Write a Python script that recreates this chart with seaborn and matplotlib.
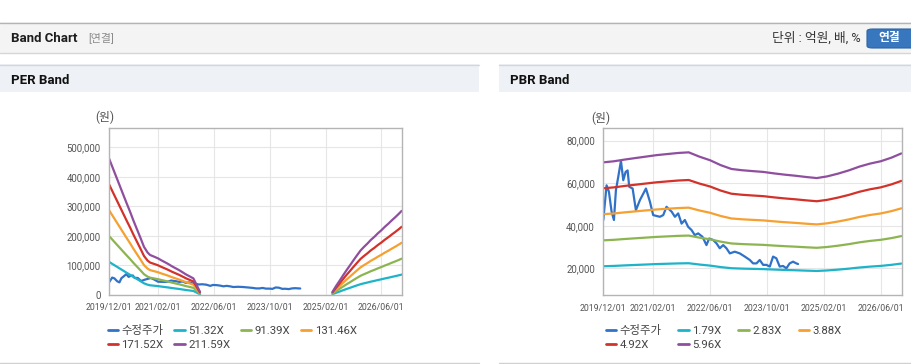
import matplotlib
matplotlib.use("Agg")
import matplotlib.pyplot as plt
import matplotlib.dates as mdates
from matplotlib.patches import Rectangle, FancyBboxPatch
from matplotlib.lines import Line2D
from matplotlib.ticker import FuncFormatter
import pandas as pd
import seaborn as sns

W, H = 912, 364

# Adjusted share price (won), shared by both charts
price_dates = ['2019-12-01', '2019-12-29', '2020-01-18', '2020-02-10', '2020-03-01', '2020-03-18',
               '2020-04-07', '2020-04-30', '2020-05-20', '2020-06-09', '2020-06-26', '2020-07-10',
               '2020-08-08', '2020-09-05', '2020-10-09', '2020-11-30', '2021-01-03', '2021-01-31',
               '2021-03-29', '2021-04-27', '2021-05-25', '2021-07-08', '2021-08-05', '2021-09-02',
               '2021-10-01', '2021-10-29', '2021-11-26', '2021-12-25', '2022-01-22', '2022-02-20',
               '2022-03-29', '2022-05-02', '2022-05-25', '2022-06-28', '2022-07-27', '2022-08-24',
               '2022-09-22', '2022-10-20', '2022-11-18', '2022-12-30', '2023-02-11', '2023-03-26',
               '2023-05-08', '2023-06-05', '2023-07-04', '2023-08-01', '2023-08-30', '2023-09-27',
               '2023-10-26', '2023-11-23', '2023-12-21', '2024-01-19', '2024-02-16', '2024-03-16',
               '2024-04-13', '2024-05-12', '2024-06-09', '2024-06-24']
price = [42700, 59000, 56000, 46600, 42700, 56700, 63000, 70500, 61400, 65300,
         66000, 58300, 57500, 47300, 52000, 57500, 51300, 45000, 44200, 45000,
         48900, 46600, 44200, 45800, 41000, 42700, 39500, 38000, 35600, 36400,
         34800, 30900, 34000, 33300, 31700, 29400, 30900, 29400, 27000, 27800,
         27000, 25500, 23900, 22300, 22300, 23900, 21600, 21600, 20800, 25500,
         24700, 20800, 21100, 20000, 22300, 23100, 22300, 22000]

# EPS (won) behind the PER band, two separate stretches
eps_dates_a = ['2019-12-01', '2020-01-01', '2020-02-01', '2020-03-01', '2020-04-01', '2020-05-01',
               '2020-06-01', '2020-07-01', '2020-08-01', '2020-09-01', '2020-10-01', '2020-11-01',
               '2020-11-23', '2021-01-01', '2021-02-01', '2021-03-01', '2021-04-01', '2021-05-01',
               '2021-06-01', '2021-07-01', '2021-08-01', '2021-09-01', '2021-10-01', '2021-11-01',
               '2021-12-06', '2022-02-01']
eps_a = [2185, 2040, 1895, 1760, 1615, 1475, 1335, 1190, 1050, 910, 770, 680,
         640, 610, 585, 555, 525, 495, 460, 430, 400, 365, 330, 300,
         265, 50]
eps_dates_b = ['2025-04-01', '2025-05-01', '2025-06-01', '2025-07-01', '2025-08-01', '2025-09-01',
               '2025-10-01', '2025-11-01', '2025-12-01', '2026-01-01', '2026-02-01', '2026-03-01',
               '2026-04-01', '2026-05-01', '2026-06-01', '2026-07-01', '2026-08-01', '2026-09-01',
               '2026-10-01', '2026-11-01', '2026-11-25']
eps_b = [50, 140, 225, 310, 395, 475, 555, 635, 710, 770, 825, 880,
         930, 985, 1035, 1090, 1140, 1195, 1245, 1300, 1345]
per_multiples = [51.32, 91.39, 131.46, 171.52, 211.59]

# BPS (won) behind the PBR band
bps_dates = ['2019-12-01', '2020-03-01', '2020-06-01', '2020-09-01', '2020-12-01', '2021-03-01',
             '2021-06-01', '2021-09-01', '2021-12-01', '2022-03-01', '2022-06-01', '2022-09-01',
             '2022-12-01', '2023-03-01', '2023-06-01', '2023-09-01', '2023-12-01', '2024-03-01',
             '2024-06-01', '2024-09-01', '2024-12-01', '2025-03-01', '2025-06-01', '2025-09-01',
             '2025-12-01', '2026-03-01', '2026-06-01', '2026-09-01', '2026-11-25']
bps = [11710, 11795, 11930, 12050, 12165, 12280, 12365, 12450, 12500, 12165, 11880, 11490,
       11190, 11090, 11020, 10955, 10840, 10740, 10655, 10555, 10470, 10605, 10820, 11075,
       11375, 11610, 11795, 12080, 12415]
pbr_multiples = [1.79, 2.83, 3.88, 4.92, 5.96]

band_colors = ['#1db3c9', '#8cb551', '#f5a030', '#d2322a', '#8f4f9e']
price_color = '#3172c9'
x_ticks = ['2019-12-01', '2021-02-01', '2022-06-01', '2023-10-01', '2025-02-01', '2026-06-01']


def build_frame(segments, multiples):
    rows = []
    for i, (dates, base) in enumerate(segments):
        for m in multiples:
            name = f"{m:.2f}X"
            for d, b in zip(dates, base):
                rows.append((pd.Timestamp(d), b * m, name, f"{name}-{i}"))
    for d, p in zip(price_dates, price):
        rows.append((pd.Timestamp(d), p, '수정주가', 'price'))
    return pd.DataFrame(rows, columns=['date', 'value', 'series', 'unit'])


sns.set_style("white")
plt.rcParams['font.family'] = ['Roboto', 'Noto Sans CJK KR', 'DejaVu Sans']

fig = plt.figure(figsize=(W / 100, H / 100), dpi=100, facecolor='white')


def px_rect(x0, y0, x1, y1, **kw):
    fig.add_artist(Rectangle((x0 / W, 1 - y1 / H), (x1 - x0) / W, (y1 - y0) / H,
                             transform=fig.transFigure, **kw))


def px_line(x0, x1, y, color):
    fig.add_artist(Line2D([x0 / W, x1 / W], [1 - y / H, 1 - y / H], transform=fig.transFigure,
                          color=color, lw=1))


def px_text(x, y, s, **kw):
    fig.text(x / W, 1 - y / H, s, va='center', **kw)


# page header
px_rect(0, 22, 912, 53, fc='#f4f4f4', ec='none')
px_line(0, 912, 22.5, '#b4b4b4')
px_line(0, 912, 53, '#d6d6d6')
px_text(11, 38, 'Band Chart', fontsize=9.5, fontweight='bold', color='#1e1e1e')
px_text(88, 38, '[연결]', fontsize=7.8, color='#8a8a8a')
px_text(861, 38.5, '단위 : 억원, 배, %', fontsize=9.2, color='#333333', ha='right')
fig.add_artist(FancyBboxPatch((867 / W, 1 - 48 / H), 50 / W, 19 / H,
                              boxstyle='round,pad=0,rounding_size=0.006',
                              transform=fig.transFigure, fc='#3877bd', ec='#2d64a3', lw=0.8))
px_text(889, 38, '연결', fontsize=8.5, fontweight='bold', color='white', ha='center')

# panel frames
for x0, x1, title in [(0, 479, 'PER Band'), (499, 912, 'PBR Band')]:
    px_rect(x0, 64, x1, 92, fc='#eef2f7', ec='none')
    px_line(x0, x1, 64.5, '#d6d6d6')
    px_line(x0, x1, 362.5, '#d0d0d0')
    px_text(x0 + 11, 80, title, fontsize=9.5, fontweight='bold', color='#111111')

panels = [
    dict(rect=[109 / W, 69 / H, 293 / W, 167 / H],
         df=build_frame([(eps_dates_a, eps_a), (eps_dates_b, eps_b)], per_multiples),
         multiples=per_multiples, ylim=(0, 565000), yticks=range(0, 500001, 100000),
         unit_xy=(105, 117), leg_x=-0.004, colspace=0.95),
    dict(rect=[603.3 / W, 68.7 / H, 298.4 / W, 167 / H],
         df=build_frame([(bps_dates, bps)], pbr_multiples),
         multiples=pbr_multiples, ylim=(7300, 85800), yticks=range(20000, 80001, 20000),
         unit_xy=(601, 118), leg_x=0.008, colspace=1.5),
]

for p in panels:
    ax = fig.add_axes(p['rect'])
    order = ['수정주가'] + [f"{m:.2f}X" for m in p['multiples']]
    palette = dict(zip(order, [price_color] + band_colors))
    sns.lineplot(data=p['df'], x='date', y='value', hue='series', hue_order=order,
                 palette=palette, units='unit', estimator=None, lw=1.6, ax=ax)

    ax.set_xlim(pd.Timestamp('2019-12-01'), pd.Timestamp('2026-11-28'))
    ax.set_ylim(*p['ylim'])
    ax.set_xticks([pd.Timestamp(d) for d in x_ticks])
    ax.xaxis.set_major_formatter(mdates.DateFormatter('%Y/%m/%d'))
    ax.set_yticks(list(p['yticks']))
    ax.yaxis.set_major_formatter(FuncFormatter(lambda v, pos: f"{v:,.0f}"))
    ax.set_xlabel('')
    ax.set_ylabel('')
    ax.grid(True, color='#e6e6e6', lw=0.8)
    ax.set_axisbelow(True)
    for s in ax.spines.values():
        s.set_color('#b4b4b4')
        s.set_linewidth(1)
    ax.tick_params(axis='both', length=4, width=0.8, color='#b4b4b4',
                   labelcolor='#555555', pad=2)
    ax.tick_params(axis='x', labelsize=6.3)
    ax.tick_params(axis='y', labelsize=6.9)

    px_text(p['unit_xy'][0], p['unit_xy'][1], '(원)', fontsize=8.5, color='#555555', ha='center')

    # legend laid out row by row: 4 on the first line, 2 on the second
    old = ax.get_legend()
    handles = old.legend_handles
    labels = [t.get_text() for t in old.get_texts()]
    old.remove()
    for h in handles:
        h.set_linewidth(2)
    idx = [0, 4, 1, 5, 2, 3]
    ax.legend([handles[i] for i in idx], [labels[i] for i in idx], loc='upper left',
              bbox_to_anchor=(p['leg_x'], -0.18), ncol=4, frameon=False, fontsize=8.2,
              handlelength=0.9, handletextpad=0.3, columnspacing=p['colspace'],
              labelspacing=0.35, labelcolor='#444444', borderaxespad=0, borderpad=0)

fig.savefig('out.png', dpi=100, facecolor='white')
